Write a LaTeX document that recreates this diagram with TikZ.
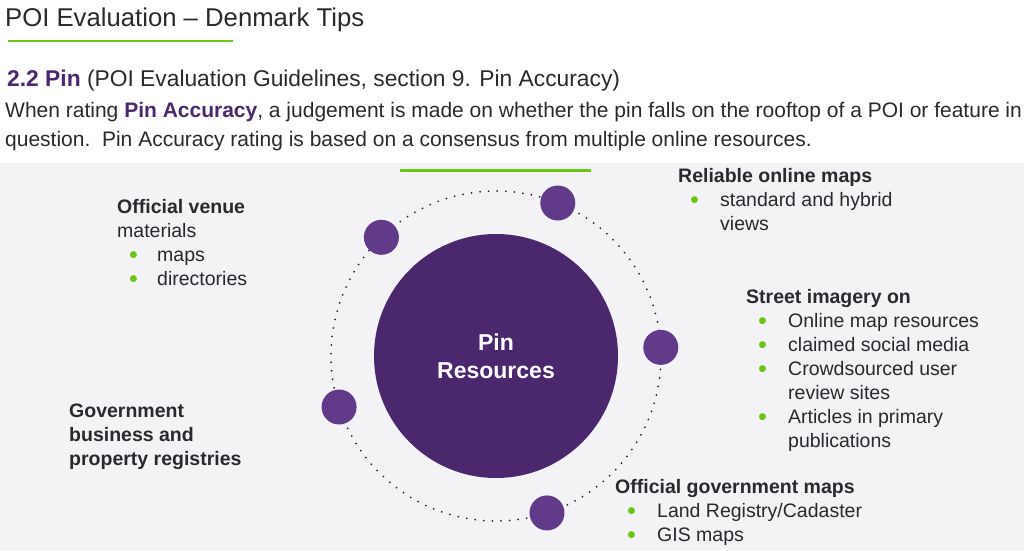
\documentclass[tikz,border=0pt]{standalone}
\usepackage{fontspec}
\setmainfont{Liberation Sans}
\definecolor{pinpurple}{RGB}{75,40,110}
\definecolor{dotpurple}{RGB}{98,58,138}
\definecolor{pingreen}{RGB}{106,200,20}
\definecolor{panelgrey}{RGB}{243,243,246}
\definecolor{inkgrey}{RGB}{40,42,45}
\newcommand{\gbul}{\textcolor{pingreen}{\raisebox{-2pt}{\scalebox{1.3}{\textbullet}}}}
\newcommand{\bitem}[1][42pt]{\makebox[#1][l]{\hspace*{12pt}\gbul}}
\tikzset{
  body/.style={inner sep=0pt, anchor=base west, text=inkgrey, font=\fontsize{21}{29}\selectfont},
  block/.style={inner sep=0pt, anchor=base west, align=left, text=inkgrey, font=\fontsize{19.5}{24}\selectfont},
  hub/.style={circle, fill=pinpurple, minimum size=244pt, inner sep=0pt, text=white, align=center, font=\bfseries\fontsize{23}{28}\selectfont},
  spot/.style={circle, fill=dotpurple, minimum size=35pt, inner sep=0pt},
  ring/.style={line width=2pt, dash pattern=on 0pt off 8.6pt, line cap=round, inkgrey},
  rule/.style={pingreen, line width=2.5pt},
}
\begin{document}
\begin{tikzpicture}[x=1pt, y=-1pt]
  \useasboundingbox (0,0) rectangle (1024,550);
  \fill[panelgrey] (0,163) rectangle (1024,550);

  % heading
  \node[body, font=\fontsize{25.7}{30}\selectfont] (title) at (5,26) {POI Evaluation -- Denmark Tips};
  \draw[rule] (8,41) -- (233,41);
  \node[body, font=\fontsize{22.8}{26}\selectfont] (sub) at (7,86)
    {\textcolor{pinpurple}{\textbf{2.2 Pin}} (POI Evaluation Guidelines, section 9. Pin Accuracy)};
  \node[body] (intro1) at (5,117) {When rating \textcolor{pinpurple}{\textbf{Pin Accuracy}}, a judgement is made on whether the pin falls on the rooftop of a POI or feature in};
  \node[body] (intro2) at (5,146) {question.\ \ Pin Accuracy rating is based on a consensus from multiple online resources.};

  % hub and ring
  \draw[rule, line width=3pt] (400,170) -- (591,170);
  \node[hub] (pin) at (496,356) {Pin\\Resources};
  \draw[ring] (pin.center) circle (165pt);
  \node[spot] (maps)   at ([shift={(68:165pt)}]pin.center) {};
  \node[spot] (venue)  at ([shift={(134:165pt)}]pin.center) {};
  \node[spot] (street) at ([shift={(3:165pt)}]pin.center) {};
  \node[spot] (govreg) at ([shift={(198:165pt)}]pin.center) {};
  \node[spot] (govmap) at ([shift={(-72:165pt)}]pin.center) {};

  % resource texts (placed by their last baseline)
  \node[block] (venuetext) at (117,285) {\textbf{Official venue}\\materials\\\bitem[40pt]maps\\\bitem[40pt]directories};
  \node[block] (mapstext) at (678,230) {\textbf{Reliable online maps}\\\bitem standard and hybrid\\\hspace*{42pt}views};
  \node[block] (streettext) at (746,447) {\textbf{Street imagery on}\\\bitem Online map resources\\\bitem claimed social media\\\bitem Crowdsourced user\\\hspace*{42pt}review sites\\\bitem Articles in primary\\\hspace*{42pt}publications};
  \node[block, font=\bfseries\fontsize{19.5}{24}\selectfont] (govregtext) at (69,465) {Government\\business and\\property registries};
  \node[block] (govmaptext) at (615,541) {\textbf{Official government maps}\\\bitem Land Registry/Cadaster\\\bitem GIS maps};
\end{tikzpicture}
\end{document}
